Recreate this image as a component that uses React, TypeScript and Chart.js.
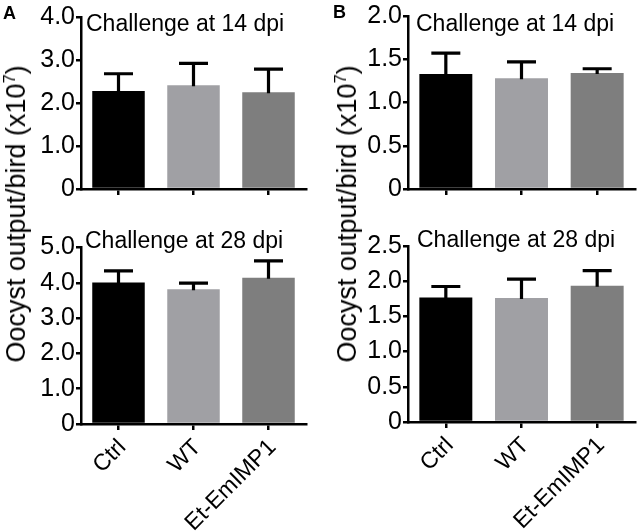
import React, { useEffect, useRef } from "react";
import { Chart, registerables } from "chart.js";

Chart.register(...registerables);

const FONT = '"Liberation Sans", Arial, Helvetica, sans-serif';

const categories = ["Ctrl", "WT", "Et-EmIMP1"];
const barColors = ["#000000", "#a0a0a4", "#7e7e7e"];

// Panel A, challenge at 14 dpi
const meanA14 = [2.28, 2.41, 2.25];
const semA14 = [0.4, 0.51, 0.54];
// Panel A, challenge at 28 dpi
const meanA28 = [4.01, 3.82, 4.14];
const semA28 = [0.33, 0.17, 0.48];
// Panel B, challenge at 14 dpi
const meanB14 = [1.33, 1.28, 1.34];
const semB14 = [0.24, 0.19, 0.05];
// Panel B, challenge at 28 dpi
const meanB28 = [1.77, 1.76, 1.935];
const semB28 = [0.155, 0.27, 0.215];

const ticksA14 = ["0", "1.0", "2.0", "3.0", "4.0"];
const ticksA28 = ["0", "1.0", "2.0", "3.0", "4.0", "5.0"];
const ticksB14 = ["0", "0.5", "1.0", "1.5", "2.0"];
const ticksB28 = ["0", "0.5", "1.0", "1.5", "2.0", "2.5"];

const stepA = 1;
const stepB = 0.5;

const subtitle14 = "Challenge at 14 dpi";
const subtitle28 = "Challenge at 28 dpi";
const yTitle = "Oocyst output/bird (x10";
const yTitleExp = "7";

const errorBarPlugin = {
  id: "errorBars",
  afterDatasetsDraw(chart: any, _args: any, opts: any) {
    const meta = chart.getDatasetMeta(0);
    const data = chart.data.datasets[0].data as number[];
    const errs: number[] = opts.errors || [];
    const y = chart.scales.y;
    const ctx = chart.ctx;
    ctx.save();
    ctx.strokeStyle = "#000";
    ctx.lineWidth = 3.2;
    meta.data.forEach((bar: any, i: number) => {
      const top = y.getPixelForValue(data[i] + errs[i]);
      ctx.beginPath();
      ctx.moveTo(bar.x, bar.y + 1);
      ctx.lineTo(bar.x, top);
      ctx.moveTo(bar.x - 14.5, top);
      ctx.lineTo(bar.x + 14.5, top);
      ctx.stroke();
    });
    ctx.restore();
  },
};

const subtitlePlugin = {
  id: "panelSubtitle",
  afterDraw(chart: any, _args: any, opts: any) {
    if (!opts.text) return;
    const ctx = chart.ctx;
    ctx.save();
    ctx.fillStyle = "#000";
    ctx.font = `23px ${FONT}`;
    ctx.textAlign = "left";
    ctx.textBaseline = "alphabetic";
    ctx.fillText(opts.text, opts.x, opts.y);
    ctx.restore();
  },
};

type PanelProps = {
  left: number;
  top: number;
  width: number;
  height: number;
  area: { l: number; r: number; t: number; b: number };
  means: number[];
  errs: number[];
  tickLabels: string[];
  step: number;
  showX: boolean;
  sub: { text: string; x: number; y: number };
};

function Panel(p: PanelProps) {
  const ref = useRef<HTMLCanvasElement | null>(null);
  useEffect(() => {
    if (!ref.current) return;
    const yMax = (p.tickLabels.length - 1) * p.step;
    const chart = new Chart(ref.current, {
      type: "bar",
      data: {
        labels: categories,
        datasets: [
          {
            data: p.means,
            backgroundColor: barColors,
            borderWidth: 0,
            barPercentage: 0.7,
            categoryPercentage: 1.0,
          },
        ],
      },
      plugins: [errorBarPlugin, subtitlePlugin],
      options: {
        responsive: false,
        animation: false,
        events: [],
        layout: {
          padding: { top: p.area.t, right: p.width - p.area.r, left: 0, bottom: 0 },
        },
        plugins: {
          legend: { display: false },
          tooltip: { enabled: false },
          errorBars: { errors: p.errs },
          panelSubtitle: p.sub,
        } as any,
        scales: {
          x: {
            type: "category",
            offset: true,
            grid: {
              display: true,
              offset: false,
              drawOnChartArea: false,
              drawTicks: true,
              tickLength: 6,
              lineWidth: 2.5,
              color: "#000",
            },
            border: { display: true, color: "#000", width: 2.5 },
            ticks: {
              display: p.showX,
              color: "#000",
              font: { family: FONT, size: 23 },
              minRotation: 45,
              maxRotation: 45,
              padding: 4,
              labelOffset: 4,
              autoSkip: false,
            },
            afterFit: (s: any) => {
              s.height = p.height - p.area.b;
            },
          },
          y: {
            type: "linear",
            min: 0,
            max: yMax,
            grid: {
              display: true,
              drawOnChartArea: false,
              drawTicks: true,
              tickLength: 5,
              lineWidth: 2.5,
              color: "#000",
            },
            border: { display: true, color: "#000", width: 2.5 },
            ticks: {
              stepSize: p.step,
              color: "#000",
              font: { family: FONT, size: 25 },
              padding: 1,
              callback: (_v: any, i: number) => p.tickLabels[i],
            },
            afterFit: (s: any) => {
              s.width = p.area.l;
            },
          },
        },
      } as any,
    });
    return () => chart.destroy();
  }, []);
  return (
    <canvas
      ref={ref}
      width={p.width}
      height={p.height}
      style={{ position: "absolute", left: p.left, top: p.top, width: p.width, height: p.height }}
    />
  );
}

function YTitle({ cx, cy }: { cx: number; cy: number }) {
  return (
    <div
      style={{
        position: "absolute",
        left: cx,
        top: cy,
        transform: "translate(-50%, -50%) rotate(-90deg)",
        fontSize: 27,
        lineHeight: "27px",
        whiteSpace: "nowrap",
        color: "#000",
      }}
    >
      {yTitle}
      <span style={{ fontSize: "0.6em", position: "relative", top: "-0.6em" }}>{yTitleExp}</span>)
    </div>
  );
}

export default function App() {
  return (
    <div
      style={{
        position: "absolute",
        left: 0,
        top: 0,
        width: 639,
        height: 532,
        background: "#fff",
        fontFamily: FONT,
        overflow: "hidden",
      }}
    >
      <Panel
        left={0}
        top={0}
        width={320}
        height={205}
        area={{ l: 81, r: 306, t: 17, b: 194 }}
        means={meanA14}
        errs={semA14}
        tickLabels={ticksA14}
        step={stepA}
        showX={false}
        sub={{ text: subtitle14, x: 86, y: 30.5 }}
      />
      <Panel
        left={0}
        top={230}
        width={320}
        height={302}
        area={{ l: 81, r: 306, t: 17.5, b: 194 }}
        means={meanA28}
        errs={semA28}
        tickLabels={ticksA28}
        step={stepA}
        showX={true}
        sub={{ text: subtitle28, x: 85, y: 18 }}
      />
      <Panel
        left={320}
        top={0}
        width={319}
        height={205}
        area={{ l: 88, r: 315, t: 15, b: 192 }}
        means={meanB14}
        errs={semB14}
        tickLabels={ticksB14}
        step={stepB}
        showX={false}
        sub={{ text: subtitle14, x: 96, y: 30.5 }}
      />
      <Panel
        left={320}
        top={230}
        width={319}
        height={302}
        area={{ l: 88, r: 315, t: 15, b: 192 }}
        means={meanB28}
        errs={semB28}
        tickLabels={ticksB28}
        step={stepB}
        showX={true}
        sub={{ text: subtitle28, x: 97, y: 17 }}
      />
      <div style={{ position: "absolute", left: 3, top: 4, fontWeight: 700, fontSize: 18, lineHeight: "18px" }}>A</div>
      <div style={{ position: "absolute", left: 333, top: 3, fontWeight: 700, fontSize: 18, lineHeight: "18px" }}>B</div>
      <YTitle cx={18} cy={214} />
      <YTitle cx={349} cy={214} />
    </div>
  );
}
